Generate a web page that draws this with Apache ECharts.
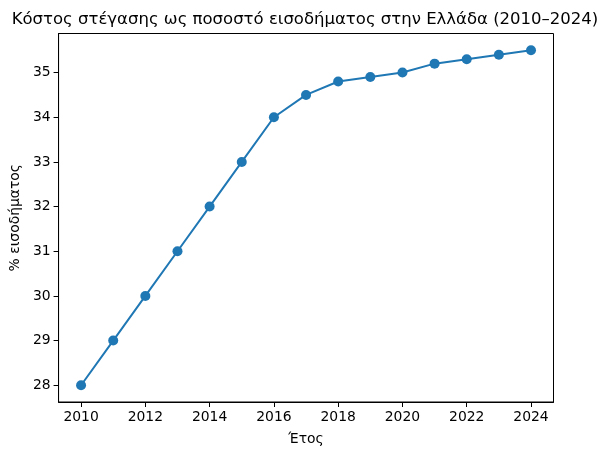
<!DOCTYPE html>
<html><head><meta charset="utf-8">
<script src="https://cdn.jsdelivr.net/npm/echarts@6/dist/echarts.min.js"></script>
<style>html,body{margin:0;padding:0;background:#fff}#c{width:610px;height:456px}</style>
</head><body><div id="c"></div>
<script>
const years = [2010,2011,2012,2013,2014,2015,2016,2017,2018,2019,2020,2021,2022,2023,2024];
const values = [28,29,30,31,32,33,34,34.5,34.8,34.9,35.0,35.2,35.3,35.4,35.5];
const xTicks = [2010,2012,2014,2016,2018,2020,2022,2024];
const yTicks = [28,29,30,31,32,33,34,35];
const titleText = 'Κόστος στέγασης ως ποσοστό εισοδήματος στην Ελλάδα (2010–2024)';
const xName = 'Έτος';
const yName = '% εισοδήματος';

const font = 'DejaVu Sans';
const chart = echarts.init(document.getElementById('c'), null, {renderer:'canvas'});
chart.setOption({
  animation:false,
  backgroundColor:'#fff',
  title:{text:titleText,left:'center',top:6,
    textStyle:{fontFamily:font,fontSize:16.5,fontWeight:'normal',color:'#000'}},
  grid:{left:57.5,right:56.5,top:33.5,bottom:54,containLabel:false,show:true,borderColor:'#000',borderWidth:1},
  xAxis:{type:'value',min:2009.3,max:2024.7,
    name:xName,nameLocation:'middle',nameGap:30,
    nameTextStyle:{fontFamily:font,fontSize:13.9,color:'#000'},
    axisLine:{show:true,onZero:false,lineStyle:{color:'#000',width:1}},
    axisTick:{show:true,length:5,lineStyle:{color:'#000'},customValues:xTicks},
    axisLabel:{fontFamily:font,fontSize:13.9,color:'#000',margin:8,customValues:xTicks,formatter:v=>String(v)},
    splitLine:{show:false}},
  yAxis:{type:'value',min:27.625,max:35.875,
    name:yName,nameLocation:'middle',nameGap:35,
    nameTextStyle:{fontFamily:font,fontSize:13.9,color:'#000'},
    axisLine:{show:true,onZero:false,lineStyle:{color:'#000',width:1}},
    axisTick:{show:true,length:5,lineStyle:{color:'#000'},customValues:yTicks},
    axisLabel:{fontFamily:font,fontSize:13.9,color:'#000',margin:8,customValues:yTicks,formatter:v=>String(v)},
    splitLine:{show:false}},
  series:[{type:'line',data:years.map((y,i)=>[y,values[i]]),
    symbol:'circle',symbolSize:10,
    lineStyle:{color:'#1f77b4',width:2},
    itemStyle:{color:'#1f77b4'}}]
});
</script></body></html>
